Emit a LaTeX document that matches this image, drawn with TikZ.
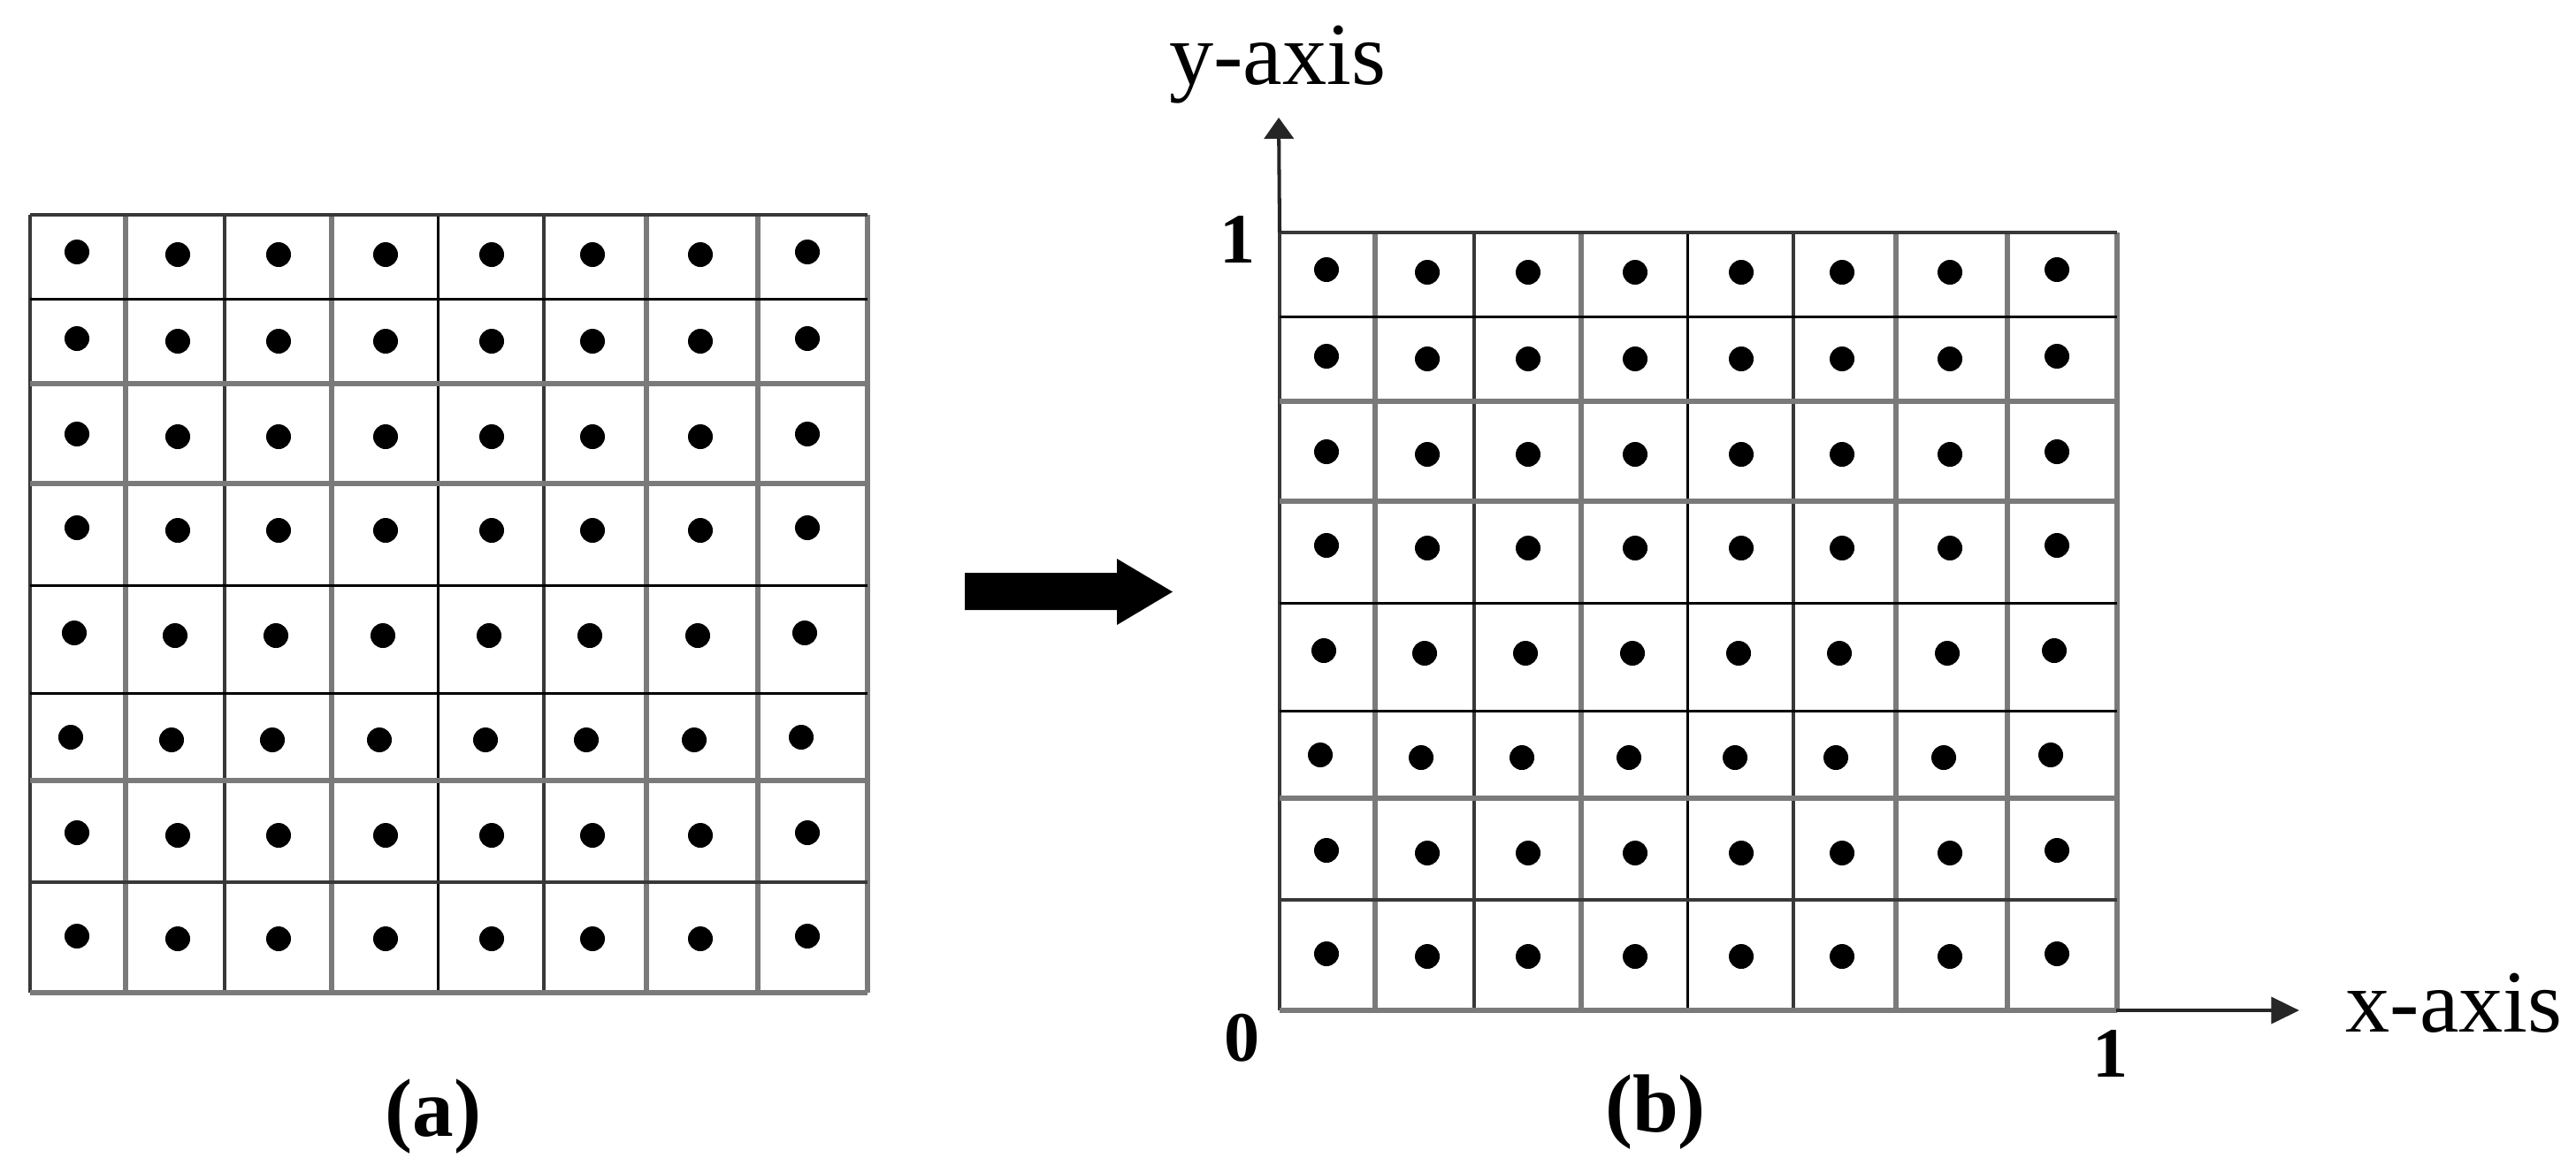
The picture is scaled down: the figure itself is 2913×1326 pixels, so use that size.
\documentclass[tikz,border=0pt]{standalone}
\usepackage{fontspec}
\setmainfont{Liberation Serif}
\usetikzlibrary{arrows.meta}
\begin{document}
\begin{tikzpicture}[x=0.01cm,y=-0.01cm,
  gthin/.style={draw=black, line width=0.85pt},
  gdark/.style={draw=black!78, line width=1.2pt},
  gthick/.style={draw=black!52, line width=1.7pt},
  axislbl/.style={inner sep=0pt, font=\fontsize{28.5}{30}\selectfont},
  ticklbl/.style={inner sep=0pt, font=\fontsize{22.8}{24}\selectfont\bfseries},
  caplbl/.style={inner sep=0pt, font=\fontsize{26.5}{28}\selectfont\bfseries},
  yaxisline/.style={draw=black!85, line width=1.15pt, -{Triangle[length=6.8pt,width=9.4pt]}},
  xaxisline/.style={draw=black!85, line width=1.15pt, -{Triangle[length=9pt,width=8.5pt]}}
]
\useasboundingbox (0,0) rectangle (2913,1326);
\fill[white] (0,0) rectangle (2913,1326);

% ---- the two identical grids ----
\foreach \ox/\oy/\g in {34/243/L,1447/263/R}{
  \begin{scope}[shift={(\ox,\oy)}]
    \foreach \v/\s in {0/gdark,108/gthick,220/gdark,341/gthick,461/gthin,581/gdark,697/gthick,823/gthick,947/gthick}
      \draw[\s] (\v,0) -- (\v,880);
    \foreach \h/\s in {0/gdark,95/gthin,191/gthick,304/gthick,419/gthin,541/gthin,640/gthick,755/gdark,880/gthick}
      \draw[\s] (0,\h) -- (947,\h);
    \foreach \yy/\dx in {45/0,143/0,251/0,357/0,476/-3,594/-7,702/0,819/0}
      \foreach \xx/\dy in {53/-3,167/0,281/0,402/0,522/0,636/0,758/0,879/-3}
        \fill[black] (\xx+\dx,\yy+\dy) circle[radius=0.14cm];
  \end{scope}
}

% ---- big transformation arrow ----
\fill[black] (1091,648) -- (1263,648) -- (1263,632) -- (1326,669.5)
  -- (1263,707) -- (1263,690) -- (1091,690) -- cycle;

% ---- axes ----
\coordinate (O) at (1447,1143);
\coordinate (gridTL) at (1447,263);
\coordinate (gridBR) at (2393,1143);
\coordinate (ytip) at (1446,133);
\coordinate (xtip) at (2600,1143);
\draw[yaxisline] (gridTL) -- (ytip);
\draw[xaxisline] (gridBR) -- (xtip);

% ---- labels ----
\node[axislbl, anchor=base east] (ylab) at (1568,95) {y-axis};
\node[axislbl, anchor=base west] (xlab) at (2652,1167) {x-axis};
\node[ticklbl, anchor=base] (oney) at (1400,297) {1};
\node[ticklbl, anchor=base] (zero) at (1405,1200) {0};
\node[ticklbl, anchor=base] (onex) at (2387,1218) {1};
\node[caplbl, anchor=base] (capa) at (490,1285) {(a)};
\node[caplbl, anchor=base] (capb) at (1872,1280) {(b)};
\end{tikzpicture}
\end{document}
